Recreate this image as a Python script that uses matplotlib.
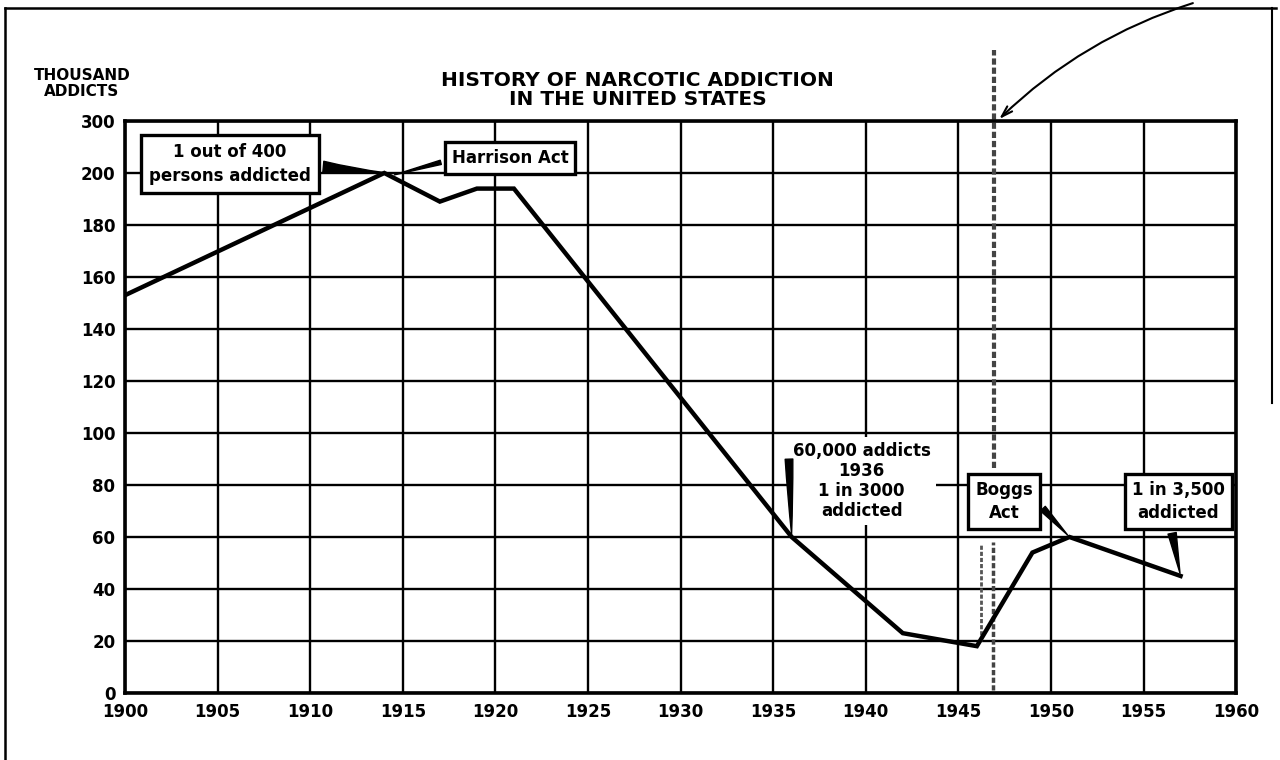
import numpy as np
import matplotlib
matplotlib.use("Agg")
import matplotlib.pyplot as plt
from matplotlib.lines import Line2D

# Data (thousand addicts)
years = [1900, 1914, 1917, 1919, 1921, 1936, 1942, 1946, 1949, 1951, 1957]
addicts = [153, 200, 189, 194, 194, 60, 23, 18, 54, 60, 45]

x_ticks = list(range(1900, 1961, 5))
y_ticks = [0, 20, 40, 60, 80, 100, 120, 140, 160, 180, 200, 300]

# annotations: text, point it refers to
notes = [
    ("1 out of 400\npersons addicted", (1914.2, 200)),
    ("Harrison Act", (1914.4, 199)),
    ("Boggs\nAct", (1951, 60)),
    ("1 in 3,500\naddicted", (1957, 45)),
]
note_1936 = "60,000 addicts\n1936\n1 in 3000\naddicted"
point_1936 = (1936, 60)

plt.rcParams['font.family'] = ['DejaVu Sans']
plt.rcParams['font.weight'] = 'bold'


# the scale squeezes 200-300 into a single grid step, as in the original
def fwd(y):
    y = np.asarray(y, dtype=float)
    return np.where(y <= 200, y, 200 + (y - 200) * 0.2)


def inv(v):
    v = np.asarray(v, dtype=float)
    return np.where(v <= 200, v, 200 + (v - 200) * 5)


fig = plt.figure(figsize=(12.8, 7.6), dpi=100)
ax = fig.add_axes([0.0977, 0.0882, 0.868, 0.7526])
ax.set_yscale('function', functions=(fwd, inv))

ax.plot(years, addicts, color='black', lw=3.2, solid_joinstyle='miter', zorder=5)

ax.set_xlim(1900, 1960)
ax.set_ylim(0, 300)
ax.set_xticks(x_ticks)
ax.set_yticks(y_ticks)
ax.set_xticklabels([str(t) for t in x_ticks], fontsize=12, fontweight='bold')
ax.set_yticklabels([str(t) for t in y_ticks], fontsize=12, fontweight='bold')
ax.tick_params(length=0, pad=7)
ax.grid(True, color='black', lw=1.7)
for s in ax.spines.values():
    s.set_linewidth(2.6)

# scan streaks near 1947
ax.axvline(1946.9, ymin=0.393, ymax=1.124, color='#444444', lw=3,
           ls=(0, (1.5, 0.7)), clip_on=False, zorder=2)
ax.axvline(1946.85, ymin=0.005, ymax=0.264, color='#444444', lw=2.5,
           ls=(0, (1.5, 0.7)), zorder=2)
ax.axvline(1946.2, ymin=0.09, ymax=0.26, color='#555555', lw=2,
           ls=(0, (1.5, 0.7)), zorder=2)

fs = 12

ax.annotate(notes[0][0], xy=notes[0][1], xycoords='data',
            xytext=(0.0945, 0.925), textcoords='axes fraction',
            ha='center', va='center', fontsize=fs, fontweight='bold',
            linespacing=1.4,
            bbox=dict(boxstyle='square,pad=0.5', fc='white', ec='black', lw=2.4),
            zorder=6,
            arrowprops=dict(arrowstyle='wedge,tail_width=0.7,shrink_factor=0.35',
                            fc='black', ec='black', relpos=(1.0, 0.45)))
ax.annotate(notes[1][0], xy=notes[1][1], xycoords='data',
            xytext=(0.3465, 0.936), textcoords='axes fraction',
            ha='center', va='center', fontsize=fs, fontweight='bold',
            bbox=dict(boxstyle='square,pad=0.42', fc='white', ec='black', lw=2.4),
            zorder=6,
            arrowprops=dict(arrowstyle='wedge,tail_width=0.26,shrink_factor=0.5',
                            fc='black', ec='black', relpos=(0.0, 0.4)))
ax.annotate(notes[2][0], xy=notes[2][1], xycoords='data',
            xytext=(0.791, 0.334), textcoords='axes fraction',
            ha='center', va='center', fontsize=fs, fontweight='bold',
            linespacing=1.35,
            bbox=dict(boxstyle='square,pad=0.42', fc='white', ec='black', lw=2.4),
            zorder=6,
            arrowprops=dict(arrowstyle='wedge,tail_width=0.4,shrink_factor=0.5',
                            fc='black', ec='black', relpos=(1.0, 0.6)))
ax.annotate(notes[3][0], xy=notes[3][1], xycoords='data',
            xytext=(0.948, 0.334), textcoords='axes fraction',
            ha='center', va='center', fontsize=fs, fontweight='bold',
            linespacing=1.35,
            bbox=dict(boxstyle='square,pad=0.42', fc='white', ec='black', lw=2.4),
            zorder=6,
            arrowprops=dict(arrowstyle='wedge,tail_width=0.5,shrink_factor=0.5',
                            fc='black', ec='black', relpos=(0.41, 0.0)))

# 1936 note: plain text on a white patch with a bar pointing down
ax.text(0.663, 0.371, note_1936, transform=ax.transAxes, ha='center',
        va='center', fontsize=fs, fontweight='bold', linespacing=1.15,
        bbox=dict(boxstyle='square,pad=0.3', fc='white', ec='none'), zorder=6)
ax.annotate('', xy=point_1936, xycoords='data', xytext=(1935.85, 91),
            textcoords='data', zorder=7,
            arrowprops=dict(arrowstyle='wedge,tail_width=0.55,shrink_factor=0.6',
                            fc='black', ec='black'))

# hand drawn arrow at the top
ax.annotate('', xy=(1947.1, 300), xycoords='data', xytext=(0.934, 0.997),
            textcoords='figure fraction', annotation_clip=False,
            arrowprops=dict(arrowstyle='->,head_length=0.8,head_width=0.25',
                            connectionstyle='arc3,rad=0.12', lw=1.5, color='black'))

fig.text(0.498, 0.882, "HISTORY OF NARCOTIC ADDICTION\nIN THE UNITED STATES",
         ha='center', va='center', fontsize=14.5, fontweight='bold', linespacing=1.0)
fig.text(0.064, 0.89, "THOUSAND\nADDICTS", ha='center', va='center',
         fontsize=11, fontweight='bold', linespacing=1.05)

# page frame of the scan
fig.add_artist(Line2D([0.004, 0.004], [0.0, 0.99], transform=fig.transFigure,
                      color='black', lw=1.8))
fig.add_artist(Line2D([0.004, 0.997], [0.99, 0.99], transform=fig.transFigure,
                      color='black', lw=1.8))
fig.add_artist(Line2D([0.994, 0.994], [0.47, 0.99], transform=fig.transFigure,
                      color='black', lw=1.5))

fig.savefig("out.png", dpi=100)
